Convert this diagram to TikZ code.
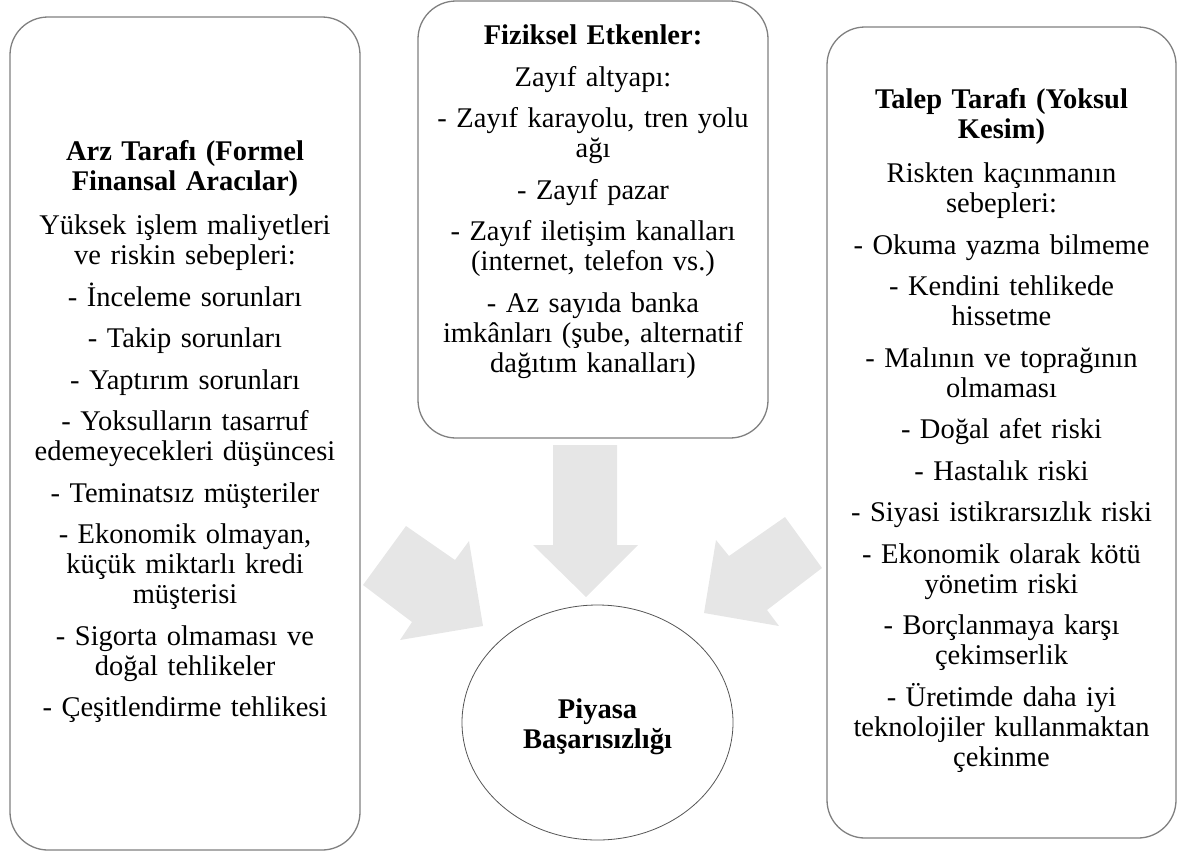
\documentclass[tikz,border=0pt]{standalone}
\usepackage{fontspec}
\setmainfont{Liberation Serif}
\usetikzlibrary{shapes.geometric}

\definecolor{edge}{RGB}{128,128,128}
\definecolor{ringedge}{RGB}{85,85,85}
\definecolor{arrowfill}{RGB}{230,230,230}

\newcommand\paragap{\\[11.5pt]}
\newcommand\titlegap{\\[14.5pt]}

\tikzset{
  panel/.style={draw=edge, line width=1.3pt, rounded corners=38pt, fill=white,
    inner sep=0pt, rectangle},
  paneltext/.style={anchor=north, inner sep=0pt, text width=345pt, align=center,
    font=\fontsize{28.5}{30}\selectfont},
  ring/.style={draw=ringedge, line width=0.8pt, ellipse, fill=white, inner sep=0pt},
  blockarrow/.style={fill=arrowfill, draw=none},
}

\begin{document}
\begin{tikzpicture}[x=1pt, y=-1pt]
\useasboundingbox (0,0) rectangle (1185,855);

% three panels
\node[panel, minimum width=350pt, minimum height=833pt] (supply) at (185,433.5) {};
\node[panel, minimum width=350pt, minimum height=437pt] (physical) at (593,219.5) {};
\node[panel, minimum width=349pt, minimum height=811pt] (demand) at (1001.5,432.5) {};

% central ellipse
\node[ring, minimum width=271pt, minimum height=235pt] (failure) at (597.5,722.5) {};

% block arrows pointing at the ellipse
\path[blockarrow] (553,445) -- (617,445) -- (617,545) -- (638,545) -- (586,597)
  -- (533,545) -- (553,545) -- cycle;
\path[blockarrow] (406,526) -- (455,560) -- (469,541) -- (483,626) -- (400,640)
  -- (412,622) -- (363,585) -- cycle;
\path[blockarrow] (785,517) -- (729,556) -- (716,540) -- (704,613) -- (779,626)
  -- (767,610) -- (822,568) -- cycle;

% panel texts
\node[paneltext] (supplytext) at (185,140) {%
  \textbf{Arz Tarafı (Formel}\\\textbf{Finansal Aracılar)}\titlegap
  Yüksek işlem maliyetleri\\ve riskin sebepleri:\paragap
  - İnceleme sorunları\paragap
  - Takip sorunları\paragap
  - Yaptırım sorunları\paragap
  - Yoksulların tasarruf\\edemeyecekleri düşüncesi\paragap
  - Teminatsız müşteriler\paragap
  - Ekonomik olmayan,\\küçük miktarlı kredi\\müşterisi\paragap
  - Sigorta olmaması ve\\doğal tehlikeler\paragap
  - Çeşitlendirme tehlikesi};

\node[paneltext] (physicaltext) at (593,25) {%
  \textbf{Fiziksel Etkenler:}\paragap
  Zayıf altyapı:\paragap
  - Zayıf karayolu, tren yolu\\ağı\paragap
  - Zayıf pazar\paragap
  - Zayıf iletişim kanalları\\(internet, telefon vs.)\paragap
  - Az sayıda banka\\imkânları (şube, alternatif\\dağıtım kanalları)};

\node[paneltext] (demandtext) at (1001.5,88) {%
  \textbf{Talep Tarafı (Yoksul}\\\textbf{Kesim)}\titlegap
  Riskten kaçınmanın\\sebepleri:\paragap
  - Okuma yazma bilmeme\paragap
  - Kendini tehlikede\\hissetme\paragap
  - Malının ve toprağının\\olmaması\paragap
  - Doğal afet riski\paragap
  - Hastalık riski\paragap
  - Siyasi istikrarsızlık riski\paragap
  - Ekonomik olarak kötü\\yönetim riski\paragap
  - Borçlanmaya karşı\\çekimserlik\paragap
  - Üretimde daha iyi\\teknolojiler kullanmaktan\\çekinme};

\node[inner sep=0pt, align=center, font=\fontsize{28.5}{30}\selectfont\bfseries]
  (failuretext) at (597.5,726.5) {Piyasa\\Başarısızlığı};
\end{tikzpicture}
\end{document}
